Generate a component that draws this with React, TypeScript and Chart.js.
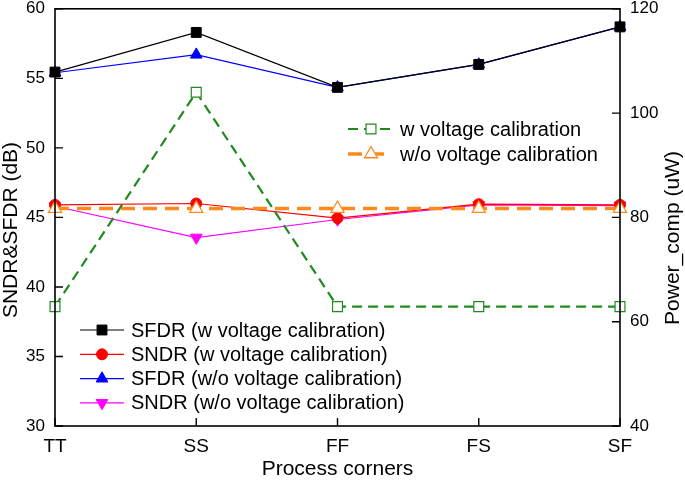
import React, { useEffect, useRef } from 'react';
import { Chart, registerables } from 'chart.js';
Chart.register(...registerables);

const corners = ['TT', 'SS', 'FF', 'FS', 'SF'];
const sfdrW = [55.45, 58.3, 54.35, 56.0, 58.7];
const sndrW = [45.9, 46.0, 44.95, 45.95, 45.9];
const sfdrWo = [55.4, 56.7, 54.35, 56.0, 58.7];
const sndrWo = [45.8, 43.55, 44.85, 45.9, 45.85];
const powerW = [62.9, 104.0, 62.9, 62.9, 62.9];
const powerWo = [81.7, 81.7, 81.7, 81.7, 81.7];
const leftTicks = [30, 35, 40, 45, 50, 55, 60];
const rightTicks = [40, 60, 80, 100, 120];

const FONT = "'Liberation Sans', Arial, sans-serif";
const GREEN = '#1f8a1f';
const ORANGE = '#ff8a1c';

type Mk = { style: string; r: number; fill: string; stroke: string; lw: number; rot?: number };

function drawMarker(ctx: CanvasRenderingContext2D, m: Mk, x: number, y: number) {
  ctx.save();
  ctx.setLineDash([]);
  ctx.fillStyle = m.fill;
  ctx.strokeStyle = m.stroke;
  ctx.lineWidth = m.lw;
  ctx.beginPath();
  const r = m.r;
  if (m.style === 'rect') {
    const s = r * Math.SQRT1_2;
    ctx.rect(x - s, y - s, 2 * s, 2 * s);
  } else if (m.style === 'circle') {
    ctx.arc(x, y, r, 0, Math.PI * 2);
  } else if (m.style === 'triangle') {
    let rad = ((m.rot || 0) * Math.PI) / 180;
    ctx.moveTo(x + Math.sin(rad) * r, y - Math.cos(rad) * r);
    rad += (2 * Math.PI) / 3;
    ctx.lineTo(x + Math.sin(rad) * r, y - Math.cos(rad) * r);
    rad += (2 * Math.PI) / 3;
    ctx.lineTo(x + Math.sin(rad) * r, y - Math.cos(rad) * r);
    ctx.closePath();
  }
  ctx.fill();
  ctx.stroke();
  ctx.restore();
}

type LegItem = { label: string; color: string; lw: number; dash: number[]; mk: Mk };

const mkSfdrW: Mk = { style: 'rect', r: 7, fill: '#000', stroke: '#000', lw: 1 };
const mkSndrW: Mk = { style: 'circle', r: 5.5, fill: '#ff0000', stroke: '#ff0000', lw: 1 };
const mkSfdrWo: Mk = { style: 'triangle', r: 6.8, fill: '#0000ff', stroke: '#0000ff', lw: 1 };
const mkSndrWo: Mk = { style: 'triangle', r: 6.8, fill: '#ff00ff', stroke: '#ff00ff', lw: 1, rot: 180 };
const mkPowW: Mk = { style: 'rect', r: 7, fill: '#ffffff', stroke: GREEN, lw: 1.2 };
const mkPowWo: Mk = { style: 'triangle', r: 7.5, fill: '#ffffff', stroke: ORANGE, lw: 1.3 };

const legendTop: LegItem[] = [
  { label: 'w voltage calibration', color: GREEN, lw: 2.2, dash: [10, 6], mk: mkPowW },
  { label: 'w/o voltage calibration', color: ORANGE, lw: 3.5, dash: [14, 8], mk: mkPowWo },
];
const legendBottom: LegItem[] = [
  { label: 'SFDR (w voltage calibration)', color: '#000', lw: 1.2, dash: [], mk: mkSfdrW },
  { label: 'SNDR (w voltage calibration)', color: '#ff0000', lw: 1.2, dash: [], mk: mkSndrW },
  { label: 'SFDR (w/o voltage calibration)', color: '#0000ff', lw: 1.2, dash: [], mk: mkSfdrWo },
  { label: 'SNDR (w/o voltage calibration)', color: '#ff00ff', lw: 1.2, dash: [], mk: mkSndrWo },
];

function drawLegend(ctx: CanvasRenderingContext2D, items: LegItem[], x0: number, x1: number, mx: number, tx: number, y0: number, dy: number) {
  items.forEach((it, i) => {
    const y = y0 + i * dy;
    ctx.save();
    ctx.strokeStyle = it.color;
    ctx.lineWidth = it.lw;
    ctx.setLineDash(it.dash);
    ctx.beginPath();
    ctx.moveTo(x0, y);
    ctx.lineTo(x1, y);
    ctx.stroke();
    ctx.restore();
    drawMarker(ctx, it.mk, mx, y);
    ctx.save();
    ctx.fillStyle = '#000';
    ctx.font = `20px ${FONT}`;
    ctx.textBaseline = 'middle';
    ctx.textAlign = 'left';
    ctx.fillText(it.label, tx, y + 1);
    ctx.restore();
  });
}

const decorPlugin = {
  id: 'decor',
  afterDraw(chart: any) {
    const ctx = chart.ctx as CanvasRenderingContext2D;
    const ca = chart.chartArea;
    const yL = chart.scales.y;
    const yR = chart.scales.y2;
    const xs = chart.scales.x;
    ctx.save();
    ctx.strokeStyle = '#000';
    ctx.lineWidth = 1.6;
    ctx.setLineDash([]);
    ctx.strokeRect(ca.left, ca.top, ca.right - ca.left, ca.bottom - ca.top);
    ctx.lineWidth = 1.4;
    ctx.beginPath();
    leftTicks.forEach((v) => {
      const y = yL.getPixelForValue(v);
      ctx.moveTo(ca.left, y);
      ctx.lineTo(ca.left + 8, y);
    });
    rightTicks.forEach((v) => {
      const y = yR.getPixelForValue(v);
      ctx.moveTo(ca.right, y);
      ctx.lineTo(ca.right - 8, y);
    });
    corners.forEach((c, i) => {
      const x = xs.getPixelForValue(i);
      ctx.moveTo(x, ca.bottom);
      ctx.lineTo(x, ca.bottom - 8);
    });
    ctx.stroke();

    ctx.fillStyle = '#000';
    ctx.font = `21px ${FONT}`;
    ctx.textAlign = 'center';
    ctx.textBaseline = 'middle';
    ctx.fillText('Process corners', (ca.left + ca.right) / 2, 469);
    ctx.save();
    ctx.translate(11, 230);
    ctx.rotate(-Math.PI / 2);
    ctx.fillText('SNDR&SFDR (dB)', 0, 0);
    ctx.restore();
    ctx.save();
    ctx.translate(673, 238);
    ctx.rotate(-Math.PI / 2);
    ctx.fillText('Power_comp (uW)', 0, 0);
    ctx.restore();
    ctx.restore();

    drawLegend(ctx, legendTop, 348, 392, 371, 400, 129, 25);
    drawLegend(ctx, legendBottom, 80, 124, 102, 131, 330, 24.3);
  },
};

function ds(label: string, data: number[], color: string, mk: Mk, axis: string, lw: number, dash: number[]) {
  return {
    label,
    data,
    yAxisID: axis,
    borderColor: color,
    backgroundColor: mk.fill,
    borderWidth: lw,
    borderDash: dash,
    pointStyle: mk.style,
    pointRadius: mk.r,
    pointRotation: mk.rot || 0,
    pointBackgroundColor: mk.fill,
    pointBorderColor: mk.stroke,
    pointBorderWidth: mk.lw,
    tension: 0,
    fill: false,
    clip: false as any,
  };
}

const noPadY = (w: number) => (s: any) => {
  s.width = w;
  s.paddingTop = 0;
  s.paddingBottom = 0;
};

export default function App() {
  const ref = useRef<HTMLCanvasElement | null>(null);
  useEffect(() => {
    if (!ref.current) return;
    const chart = new Chart(ref.current, {
      type: 'line',
      data: {
        labels: corners,
        datasets: [
          ds('w voltage calibration', powerW, GREEN, mkPowW, 'y2', 2.2, [10, 6]),
          ds('w/o voltage calibration', powerWo, ORANGE, mkPowWo, 'y2', 3.5, [14, 8]),
          ds('SNDR (w voltage calibration)', sndrW, '#ff0000', mkSndrW, 'y', 1.2, []),
          ds('SNDR (w/o voltage calibration)', sndrWo, '#ff00ff', mkSndrWo, 'y', 1.2, []),
          ds('SFDR (w voltage calibration)', sfdrW, '#000000', mkSfdrW, 'y', 1.2, []),
          ds('SFDR (w/o voltage calibration)', sfdrWo, '#0000ff', mkSfdrWo, 'y', 1.2, []),
        ] as any,
      },
      options: {
        animation: false,
        responsive: false,
        maintainAspectRatio: false,
        layout: { padding: { top: 6, left: 0, right: 0, bottom: 0 } },
        plugins: { legend: { display: false }, tooltip: { enabled: false } },
        scales: {
          x: {
            type: 'category',
            offset: false,
            grid: { display: false, drawTicks: false },
            border: { display: false },
            ticks: { color: '#000', font: { family: FONT, size: 19 }, padding: 9, maxRotation: 0, autoSkip: false },
            afterFit: (s: any) => {
              s.height = 58;
              s.paddingLeft = 0;
              s.paddingRight = 0;
            },
          },
          y: {
            position: 'left',
            min: 30,
            max: 60,
            grid: { display: false, drawTicks: false },
            border: { display: false },
            ticks: { stepSize: 5, color: '#000', font: { family: FONT, size: 17 }, padding: 10 },
            afterFit: noPadY(55),
          },
          y2: {
            position: 'right',
            min: 40,
            max: 120,
            grid: { display: false, drawTicks: false },
            border: { display: false },
            ticks: { stepSize: 20, color: '#000', font: { family: FONT, size: 17 }, padding: 10 },
            afterFit: noPadY(65),
          },
        } as any,
      },
      plugins: [decorPlugin],
    });
    return () => chart.destroy();
  }, []);
  return (
    <div style={{ position: 'absolute', left: 0, top: 0, width: 685, height: 484, background: '#fff' }}>
      <canvas ref={ref} width={685} height={484} style={{ width: 685, height: 484 }} />
    </div>
  );
}
